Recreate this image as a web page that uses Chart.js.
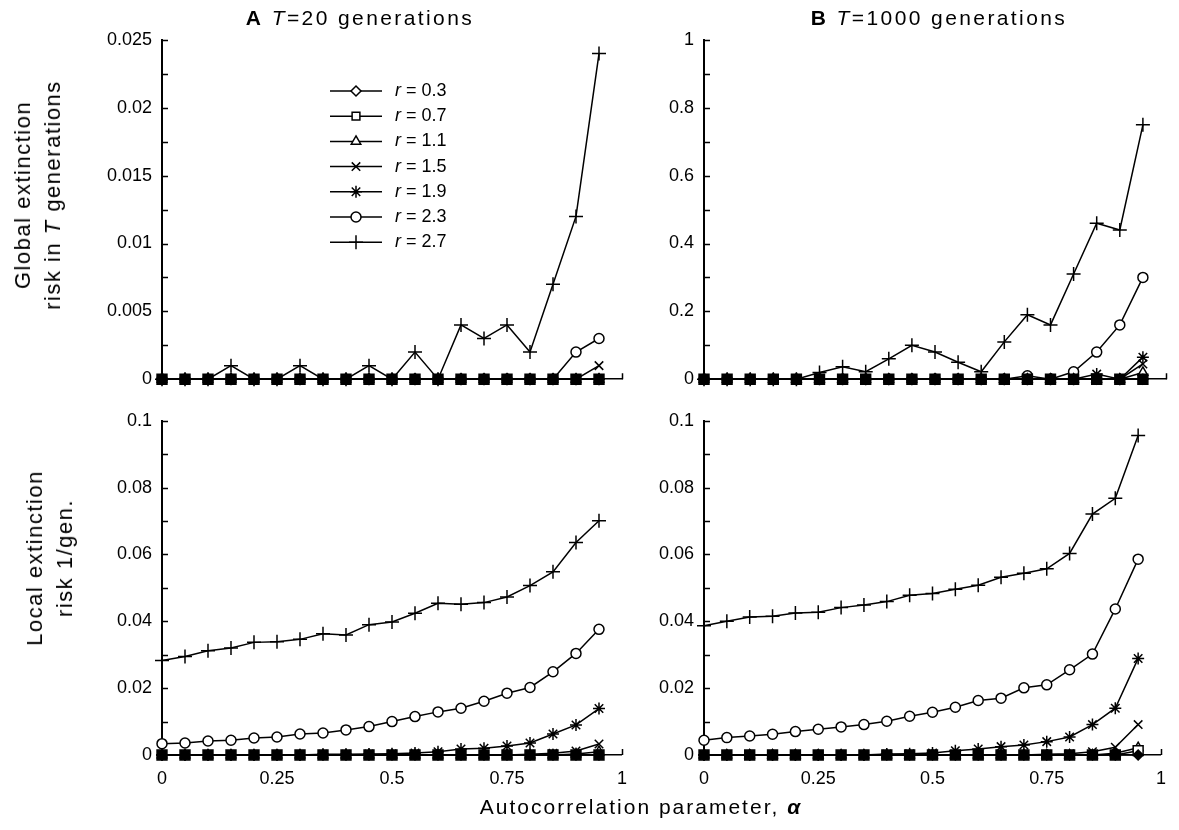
<!DOCTYPE html>
<html>
<head>
<meta charset="utf-8">
<script src="https://cdn.jsdelivr.net/npm/chart.js@4.4.0/dist/chart.umd.min.js"></script>
<style>
  body { margin: 0; background: #fff; width: 1179px; height: 830px; position: relative; overflow: hidden;
         font-family: "Liberation Sans", Arial, sans-serif; color: #000; }
  canvas { position: absolute; }
  .t { position: absolute; white-space: nowrap; }
  .title { font-size: 21px; top: 6px; transform: translateX(-50%); letter-spacing: 2.4px; }
  .ylab { font-size: 22px; text-align: center; line-height: 30px; letter-spacing: 1.5px;
          transform: translate(-50%, -50%) rotate(-90deg); }
  .xlab { font-size: 21px; left: 641px; top: 795px; transform: translateX(-50%); letter-spacing: 2px; }
</style>
</head>
<body>
<canvas id="gA" width="640" height="400" style="left:0;top:0;width:640px;height:400px"></canvas>
<canvas id="gB" width="539" height="400" style="left:640px;top:0;width:539px;height:400px"></canvas>
<canvas id="lA" width="640" height="400" style="left:0;top:400px;width:640px;height:400px"></canvas>
<canvas id="lB" width="539" height="400" style="left:640px;top:400px;width:539px;height:400px"></canvas>

<div class="t title" style="left:360px"><b>A</b> <i>T</i>=20 generations</div>
<div class="t title" style="left:939px"><b>B</b> <i>T</i>=1000 generations</div>
<div class="t ylab" style="left:38px;top:195px">Global extinction<br>risk in <i>T</i> generations</div>
<div class="t ylab" style="left:50px;top:558px">Local extinction<br>risk 1/gen.</div>
<div class="t xlab">Autocorrelation parameter, <b><i>α</i></b></div>

<script>
// autocorrelation parameter values (x)
const alpha = [0, 0.05, 0.1, 0.15, 0.2, 0.25, 0.3, 0.35, 0.4, 0.45, 0.5, 0.55, 0.6, 0.65, 0.7, 0.75, 0.8, 0.85, 0.9, 0.95];
const rLabels = ['0.3', '0.7', '1.1', '1.5', '1.9', '2.3', '2.7'];
const xTickValues = [0, 0.25, 0.5, 0.75, 1];

// A: global extinction risk, T=20
const gA03 = [0,0,0,0,0,0,0,0,0,0,0,0,0,0,0,0,0,0,0,0];
const gA07 = [0,0,0,0,0,0,0,0,0,0,0,0,0,0,0,0,0,0,0,0];
const gA11 = [0,0,0,0,0,0,0,0,0,0,0,0,0,0,0,0,0,0,0,0];
const gA15 = [0,0,0,0,0,0,0,0,0,0,0,0,0,0,0,0,0,0,0,0.001];
const gA19 = [0,0,0,0,0,0,0,0,0,0,0,0,0,0,0,0,0,0,0,0];
const gA23 = [0,0,0,0,0,0,0,0,0,0,0,0,0,0,0,0,0,0,0.002,0.003];
const gA27 = [0,0,0,0.001,0,0,0.001,0,0,0.001,0,0.002,0,0.004,0.003,0.004,0.002,0.007,0.012,0.024];

// B: global extinction risk, T=1000
const gB03 = [0,0,0,0,0,0,0,0,0,0,0,0,0,0,0,0,0,0,0,0];
const gB07 = [0,0,0,0,0,0,0,0,0,0,0,0,0,0,0,0,0,0,0,0];
const gB11 = [0,0,0,0,0,0,0,0,0,0,0,0,0,0,0,0,0,0,0,0.02];
const gB15 = [0,0,0,0,0,0,0,0,0,0,0,0,0,0,0,0,0,0,0,0.045];
const gB19 = [0,0,0,0,0,0,0,0,0,0,0,0,0,0,0,0,0,0.015,0,0.065];
const gB23 = [0,0,0,0,0,0,0,0,0,0,0,0,0,0,0.01,0,0.022,0.08,0.16,0.3];
const gB27 = [0,0,0,0,0,0.02,0.037,0.022,0.06,0.1,0.08,0.05,0.022,0.11,0.19,0.16,0.31,0.46,0.44,0.75];

// A: local extinction risk per generation
const lA03 = [0,0,0,0,0,0,0,0,0,0,0,0,0,0,0,0,0,0,0,0];
const lA07 = [0,0,0,0,0,0,0,0,0,0,0,0,0,0,0,0,0,0,0,0];
const lA11 = [0,0,0,0,0,0,0,0,0,0,0,0,0,0,0,0,0,0,0.0003,0.001];
const lA15 = [0,0,0,0,0,0,0,0,0,0,0,0,0,0,0,0,0.0002,0.0005,0.0012,0.0033];
const lA19 = [0,0,0,0,0,0,0,0.0002,0.0002,0.0003,0.0004,0.0006,0.001,0.0018,0.002,0.0027,0.0036,0.0063,0.009,0.0139];
const lA23 = [0.0034,0.0036,0.0042,0.0044,0.0051,0.0054,0.0063,0.0066,0.0075,0.0085,0.01,0.0115,0.0129,0.014,0.0161,0.0185,0.0202,0.0249,0.0304,0.0376];
const lA27 = [0.0283,0.0295,0.0312,0.032,0.0337,0.0339,0.0346,0.0363,0.0359,0.039,0.0398,0.0424,0.0454,0.0451,0.0456,0.0473,0.0507,0.0548,0.0636,0.0701];

// B: local extinction risk per generation
const lB03 = [0,0,0,0,0,0,0,0,0,0,0,0,0,0,0,0,0,0,0,0];
const lB07 = [0,0,0,0,0,0,0,0,0,0,0,0,0,0,0,0,0,0,0,0.0013];
const lB11 = [0,0,0,0,0,0,0,0,0,0,0,0,0,0,0,0,0,0,0.0005,0.0022];
const lB15 = [0,0,0,0,0,0,0,0,0,0,0,0,0,0,0,0.0002,0.0004,0.001,0.0023,0.0091];
const lB19 = [0,0,0,0,0,0,0,0,0.0003,0.0004,0.0006,0.0013,0.0018,0.0025,0.003,0.004,0.0054,0.0091,0.014,0.0289];
const lB23 = [0.0044,0.0052,0.0057,0.0062,0.007,0.0077,0.0084,0.0091,0.0101,0.0116,0.0128,0.0143,0.0163,0.017,0.0201,0.021,0.0255,0.0302,0.0437,0.0586];
const lB27 = [0.0387,0.04,0.0413,0.0415,0.0425,0.0427,0.0441,0.0449,0.0459,0.0478,0.0483,0.0496,0.0508,0.0532,0.0544,0.0557,0.0603,0.0721,0.0768,0.0956];

// marker look for each r
const markers = ['rectRot', 'rect', 'triangle', 'crossRot', 'star', 'circle', 'cross'];
const radii = [5, 7, 5.5, 6, 6, 5, 7];
const legendRadii = [5, 5.5, 5.5, 6, 6, 5, 7];

Chart.defaults.font.family = '"Liberation Sans", Arial, sans-serif';
Chart.defaults.color = '#000';

function fmt(v) {
  return String(Number(Number(v).toFixed(4)));
}

// a bit of tracking on canvas text, the original type is spaced out
const spacing = {
  id: 'spacing',
  beforeInit(chart) {
    chart.ctx.letterSpacing = '0.8px';
  }
};

// ticks drawn inward like the original
const inwardTicks = {
  id: 'inwardTicks',
  afterDraw(chart) {
    const ctx = chart.ctx, x = chart.scales.x, y = chart.scales.y;
    ctx.save();
    ctx.strokeStyle = '#000';
    ctx.lineWidth = 1.5;
    ctx.beginPath();
    y.ticks.forEach(t => {
      const py = Math.round(y.getPixelForValue(t.value)) + 0.5;
      ctx.moveTo(y.right, py);
      ctx.lineTo(y.right + 6, py);
    });
    xTickValues.forEach(v => {
      const px = Math.round(x.getPixelForValue(v)) + 0.5;
      ctx.moveTo(px, x.top);
      ctx.lineTo(px, x.top - 6);
    });
    ctx.stroke();
    ctx.restore();
  }
};

// legend with line + marker and italic r
const legendBox = {
  id: 'legendBox',
  afterDraw(chart, args, opts) {
    if (!opts.show) return;
    const ctx = chart.ctx;
    rLabels.forEach((lab, i) => {
      const yy = opts.y + i * opts.gap;
      ctx.save();
      ctx.strokeStyle = '#000';
      ctx.fillStyle = '#fff';
      ctx.lineWidth = 1.5;
      ctx.beginPath();
      ctx.moveTo(opts.x, yy);
      ctx.lineTo(opts.x + opts.len, yy);
      ctx.stroke();
      Chart.helpers.drawPoint(ctx, { pointStyle: markers[i], radius: legendRadii[i], borderWidth: 1.5, rotation: 0 },
        opts.x + opts.len / 2, yy);
      ctx.fillStyle = '#000';
      ctx.textBaseline = 'middle';
      ctx.font = 'italic 18px "Liberation Sans", Arial, sans-serif';
      const tx = opts.x + opts.len + 13;
      ctx.fillText('r', tx, yy);
      const w = ctx.measureText('r').width;
      ctx.font = '18px "Liberation Sans", Arial, sans-serif';
      ctx.fillText(' = ' + lab, tx + w, yy);
      ctx.restore();
    });
  }
};

function makePanel(id, series, yMax, yStep, showX, yW, pad, legend) {
  return new Chart(document.getElementById(id), {
    type: 'line',
    data: {
      datasets: series.map((vals, i) => ({
        label: 'r = ' + rLabels[i],
        data: alpha.map((a, k) => ({ x: a, y: vals[k] })),
        borderColor: '#000',
        borderWidth: 1.5,
        pointStyle: markers[i],
        pointRadius: radii[i],
        pointBorderWidth: 1.5,
        pointBorderColor: '#000',
        pointBackgroundColor: c => (c.raw && c.raw.y === 0) ? '#000' : '#fff',
        clip: false,
        tension: 0
      }))
    },
    options: {
      responsive: false,
      animation: false,
      devicePixelRatio: 1,
      layout: { padding: pad },
      plugins: {
        legend: { display: false },
        tooltip: { enabled: false },
        legendBox: legend
      },
      scales: {
        x: {
          type: 'linear', min: 0, max: 1,
          ticks: { display: showX, stepSize: 0.25, callback: v => fmt(v), font: { size: 18 }, padding: 13, maxRotation: 0, autoSkip: false },
          grid: { display: true, drawOnChartArea: false, drawTicks: false },
          border: { display: true, color: '#000', width: 1.5 },
          afterFit: s => { s.height = showX ? 45 : 0; }
        },
        y: {
          type: 'linear', min: 0, max: yMax,
          ticks: { stepSize: yStep, callback: (v, i) => (i % 2 === 0 ? fmt(v) : ''), font: { size: 18 }, padding: 10, autoSkip: false },
          grid: { display: true, drawOnChartArea: false, drawTicks: false },
          border: { display: true, color: '#000', width: 2 },
          afterFit: s => { s.width = yW; }
        }
      }
    },
    plugins: [spacing, inwardTicks, legendBox]
  });
}

makePanel('gA', [gA03, gA07, gA11, gA15, gA19, gA23, gA27], 0.025, 0.0025, false, 162,
  { left: 0, right: 18, top: 40, bottom: 18 }, { show: true, x: 330, y: 91, gap: 25.2, len: 52 });
makePanel('gB', [gB03, gB07, gB11, gB15, gB19, gB23, gB27], 1, 0.1, false, 64,
  { left: 0, right: 13, top: 40, bottom: 18 }, { show: false });
makePanel('lA', [lA03, lA07, lA11, lA15, lA19, lA23, lA27], 0.1, 0.01, true, 162,
  { left: 0, right: 18, top: 18, bottom: 0 }, { show: false });
makePanel('lB', [lB03, lB07, lB11, lB15, lB19, lB23, lB27], 0.1, 0.01, true, 64,
  { left: 0, right: 13, top: 18, bottom: 0 }, { show: false });
</script>
</body>
</html>
